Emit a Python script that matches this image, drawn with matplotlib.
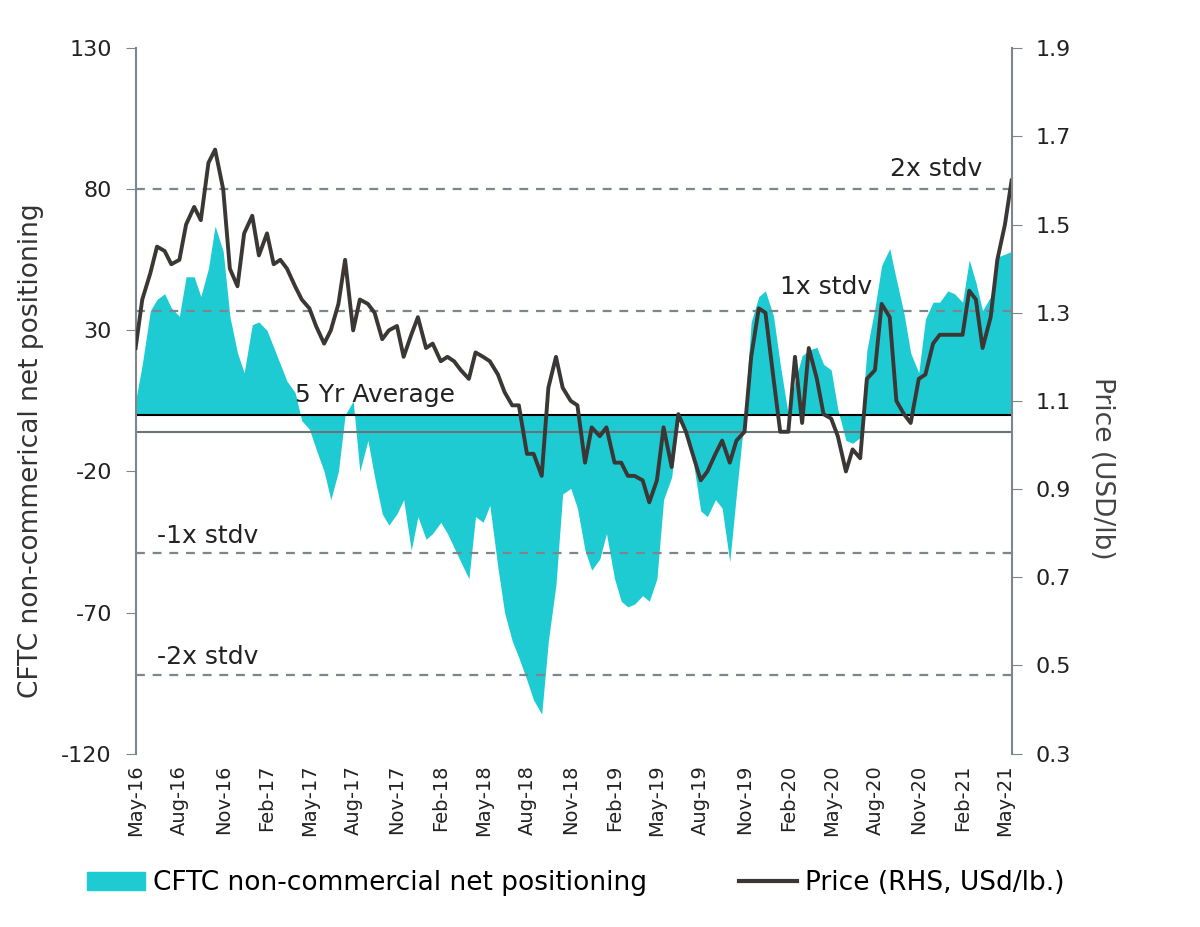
import pandas as pd
import matplotlib
matplotlib.use("Agg")
import matplotlib.pyplot as plt
import matplotlib.dates as mdates
from matplotlib.patches import Patch
from matplotlib.lines import Line2D

plt.rcParams["axes.unicode_minus"] = False

# semi-monthly observations, May-16 .. mid May-21
dates = pd.date_range("2016-05-01", periods=122, freq="SMS")

positioning = [
    5, 18, 37, 41, 43, 38, 35, 49, 49, 42,
    52, 67, 58, 35, 22, 15, 32, 33, 30, 24,
    18, 12, 8, -2, -5, -12, -20, -30, -20, 0,
    5, -20, -9, -22, -35, -39, -35, -30, -48, -36,
    -44, -42, -38, -42, -47, -52, -58, -36, -38, -32,
    -54, -70, -80, -86, -94, -101, -106, -80, -60, -28,
    -26, -33, -48, -55, -51, -42, -58, -66, -68, -67,
    -64, -66, -58, -30, -22, -2, -6, -15, -34, -36,
    -30, -33, -52, -28, 0, 33, 42, 44, 35, 18,
    0, 12, 21, 23, 24, 18, 16, 2, -9, -10,
    -8, 23, 38, 53, 59, 48, 36, 22, 15, 34,
    40, 40, 44, 43, 40, 55, 47, 37, 42, 56,
    57, 58,
]

price = [
    1.22, 1.33, 1.39, 1.45, 1.44, 1.41, 1.42, 1.50, 1.54, 1.51,
    1.64, 1.67, 1.58, 1.40, 1.36, 1.48, 1.52, 1.43, 1.48, 1.41,
    1.42, 1.40, 1.36, 1.33, 1.31, 1.27, 1.23, 1.26, 1.32, 1.42,
    1.26, 1.33, 1.32, 1.30, 1.24, 1.26, 1.27, 1.20, 1.25, 1.29,
    1.22, 1.23, 1.19, 1.20, 1.19, 1.17, 1.15, 1.21, 1.20, 1.19,
    1.16, 1.12, 1.09, 1.09, 0.98, 0.98, 0.93, 1.13, 1.20, 1.13,
    1.10, 1.09, 0.96, 1.04, 1.02, 1.04, 0.96, 0.96, 0.93, 0.93,
    0.92, 0.87, 0.92, 1.04, 0.95, 1.07, 1.03, 0.98, 0.92, 0.94,
    0.98, 1.01, 0.96, 1.01, 1.03, 1.20, 1.31, 1.30, 1.15, 1.03,
    1.03, 1.20, 1.05, 1.22, 1.15, 1.07, 1.06, 1.02, 0.94, 0.99,
    0.97, 1.15, 1.17, 1.32, 1.29, 1.10, 1.07, 1.05, 1.15, 1.16,
    1.23, 1.25, 1.25, 1.25, 1.25, 1.35, 1.33, 1.22, 1.29, 1.42,
    1.50, 1.60,
]

avg_5y = -6
stdv = 43

teal = "#1ecbd3"
dark = "#3a3735"
grey = "#7d868c"
txt = "#222222"

fig = plt.figure(figsize=(12, 9.27), dpi=100)
ax = fig.add_axes([0.113, 0.187, 0.730, 0.761])
ax2 = ax.twinx()

ax.fill_between(dates, 0, positioning, color=teal, lw=0)
ax.axhline(0, color="black", lw=1.5)
ax.axhline(avg_5y, color="#6b7377", lw=1.5)
for k in (1, 2, -1, -2):
    ax.axhline(avg_5y + k * stdv, color=grey, lw=1.6, ls=(0, (4, 3.5)))

ax2.plot(dates, price, color=dark, lw=2.8)

ax.set_ylim(-120, 130)
ax.set_yticks([-120, -70, -20, 30, 80, 130])
ax2.set_ylim(0.3, 1.9)
ax2.set_yticks([0.3, 0.5, 0.7, 0.9, 1.1, 1.3, 1.5, 1.7, 1.9])
ax2.set_yticklabels(["0.3", "0.5", "0.7", "0.9", "1.1", "1.3", "1.5", "1.7", "1.9"])
ax.set_xlim(dates[0], dates[-1])

ax.xaxis.set_major_locator(mdates.MonthLocator(bymonth=[2, 5, 8, 11]))
ax.xaxis.set_major_formatter(mdates.DateFormatter("%b-%y"))
ax.tick_params(axis="x", rotation=90, labelsize=14, length=0, colors=txt, pad=8)
ax.tick_params(axis="y", labelsize=16, length=7, colors=txt, pad=10)
ax2.tick_params(axis="y", labelsize=16, length=7, colors=txt, pad=10)
for a in (ax, ax2):
    a.tick_params(axis="y", color=grey)
    for side in ("top", "bottom"):
        a.spines[side].set_visible(False)
ax.spines["left"].set_color(grey)
ax.spines["right"].set_visible(False)
ax2.spines["left"].set_visible(False)
ax2.spines["right"].set_color(grey)
for s in (ax.spines["left"], ax2.spines["right"]):
    s.set_linewidth(1.5)

ax.set_ylabel("CFTC non-commerical net positioning", fontsize=19, color="#333333")
ax.yaxis.set_label_coords(-0.104, 0.43)
ax2.set_ylabel("Price (USD/lb)", fontsize=19, color="#444444", rotation=270, va="center")
ax2.yaxis.set_label_coords(1.103, 0.405)

ax.text(dates[22], 3, "5 Yr Average", fontsize=18, color=txt, va="bottom")
ax.text(dates[104], avg_5y + 2 * stdv + 3, "2x stdv", fontsize=18, color=txt, va="bottom")
ax.text(dates[89], avg_5y + stdv + 4, "1x stdv", fontsize=18, color=txt, va="bottom")
ax.text(dates[3], avg_5y - stdv + 2, "-1x stdv", fontsize=18, color=txt, va="bottom")
ax.text(dates[3], avg_5y - 2 * stdv + 2, "-2x stdv", fontsize=18, color=txt, va="bottom")

handles = [
    Patch(color=teal, label="CFTC non-commercial net positioning"),
    Line2D([], [], color=dark, lw=3, label="Price (RHS, USd/lb.)"),
]
fig.legend(handles=handles, loc="center", bbox_to_anchor=(0.48, 0.047), ncol=2,
           frameon=False, fontsize=19, handlelength=2.2, handletextpad=0.3,
           columnspacing=3.5)

fig.savefig("out.png", dpi=100)
